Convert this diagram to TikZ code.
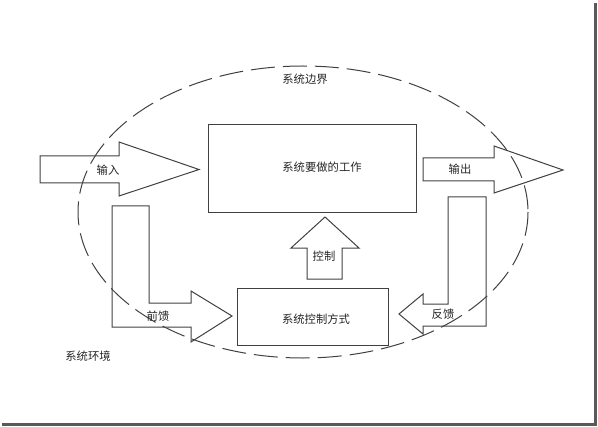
\documentclass[tikz,border=0pt]{standalone}
\usepackage{fontspec}
\setmainfont{Noto Sans CJK SC}
\tikzset{every picture/.style={line width=0.75pt}}
\tikzset{blk/.style={draw=black!75},
  lbl/.style={font=\fontsize{8.5}{10}\selectfont, text=black!85},
  bound/.style={draw=black!75, dash pattern=on 18pt off 6pt}}

\begin{document}
\begin{tikzpicture}[x=0.75pt,y=0.75pt,yscale=-1,xscale=1]
\useasboundingbox (0,0) rectangle (598,427);

%Shape: Frame shadow
\fill [black!65] (594,3) rectangle (597,426) ;
\fill [black!65] (2,423) rectangle (597,426) ;

%Shape: Ellipse [boundary]
\draw [bound] (303,212) ellipse (225 and 146) ;

%Shape: Rectangle [work]
\draw [blk] (208,125) -- (416,125) -- (416,213) -- (208,213) -- cycle ;
%Shape: Rectangle [control]
\draw [blk] (237,288) -- (388,288) -- (388,345) -- (237,345) -- cycle ;

%Shape: Up Arrow [control]
\draw [blk] (307,279) -- (307,248) -- (291,248) -- (325,217) -- (359,248) -- (342,248) -- (342,279) -- cycle ;
%Shape: Right Arrow [input]
\draw [blk] (40,156) -- (119,156) -- (119,142) -- (199,169.5) -- (119,196) -- (119,183) -- (40,183) -- cycle ;
%Shape: Bent Arrow [feedforward]
\draw [blk] (112,206) -- (149,206) -- (149,303) -- (191,303) -- (191,291) -- (232,316) -- (191,342) -- (191,327) -- (112,327) -- cycle ;
%Shape: Right Arrow [output]
\draw [blk] (423,158) -- (494,158) -- (494,146) -- (563,170) -- (494,193) -- (494,181) -- (423,181) -- cycle ;
%Shape: Bent Arrow [feedback]
\draw [blk] (486,197) -- (486,326) -- (423,326) -- (423,334) -- (399,314) -- (423,294) -- (423,304) -- (448,304) -- (448,197) -- cycle ;

% Text Node
\draw (305,79) node [lbl] (bnd) {系统边界};
% Text Node
\draw (322,167) node [lbl] (work) {系统要做的工作};
% Text Node
\draw (316,319) node [lbl] (ctrl) {系统控制方式};
% Text Node
\draw (324,256) node [lbl] (kz) {控制};
% Text Node
\draw (108,170) node [lbl] (in) {输入};
% Text Node
\draw (158,316) node [lbl] (ff) {前馈};
% Text Node
\draw (460,169) node [lbl] (out) {输出};
% Text Node
\draw (443,314) node [lbl] (fb) {反馈};
% Text Node
\draw (88,356) node [lbl] (env) {系统环境};

\end{tikzpicture}
\end{document}
